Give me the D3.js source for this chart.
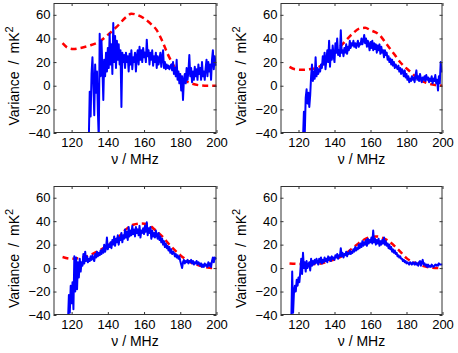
<!DOCTYPE html>
<html>
<head>
<meta charset="utf-8">
<script src="https://cdn.jsdelivr.net/npm/d3@7/dist/d3.min.js"></script>
<style>
body { margin: 0; background: #fff; }
text { font-family: "Liberation Sans", Arial, Helvetica, sans-serif; fill: #000; }
</style>
</head>
<body>
<svg id="chart" width="458" height="353"></svg>
<script>
// axis ticks
var xTicks = [120, 140, 160, 180, 200];
var yTicks = [-40, -20, 0, 20, 40, 60];

// blue (measured) series, sampled every 0.5 MHz from the start frequency
var blueStep = 0.5;

var blue1Start = 129.5;
var blue1 = [-45,-5,-26,10,24,2,-25,18,-6,12,
    -22,-45,44,8,38,15,-12,22,8,28,
    12,32,15,44,18,35,10,53,20,42,
    15,38,22,35,18,30,-18,28,20,26,
    15,28,20,25,12,27,18,30,14,24,
    20,28,12,25,30,18,33,22,30,20,
    32,24,28,20,39,25,30,18,28,22,
    30,17,25,20,28,15,25,18,22,28,
    16,24,30,15,20,14,18,15,17,14,
    16,18,13,20,10,15,8,22,5,12,
    2,10,-4,8,-12,5,10,2,15,5,
    12,26,8,15,3,12,5,16,8,14,
    5,18,10,15,5,20,8,12,5,15,
    22,8,20,12,18,5,22,30,14,25,
    18,17];

var blue2Start = 122.5;
var blue2 = [-45,-22,-40,-10,-3,-15,-6,-18,-8,8,
    18,4,12,6,24,8,15,10,14,12,
    18,15,25,18,28,14,22,30,20,38,
    16,30,22,34,25,20,36,28,40,26,
    30,25,47,28,30,25,32,28,35,27,
    33,30,38,32,36,34,38,33,36,32,
    35,38,33,36,35,40,35,38,43,36,
    40,33,38,35,30,37,32,38,30,36,
    31,35,28,34,30,35,27,33,28,30,
    24,30,26,28,22,25,20,23,18,22,
    17,20,15,18,16,14,17,12,15,10,
    14,12,8,13,7,10,5,8,3,6,
    4,8,5,7,3,9,13,5,8,4,
    10,6,3,7,5,8,4,9,5,7,
    3,6,4,8,2,6,4,9,2,5,
    -4,8,2,20,12,12];

var blue3Start = 118;
var blue3 = [-45,-23,-38,-15,-30,-12,-35,10,-20,9,
    -18,5,-8,8,-3,5,2,12,4,14,
    6,10,5,8,6,10,7,11,8,6,
    12,9,14,10,13,11,15,12,16,13,
    20,14,17,26,16,20,18,22,17,24,
    20,27,19,25,22,28,20,26,24,30,
    22,28,25,33,26,31,24,35,27,32,
    28,36,29,33,27,35,30,33,28,36,
    26,32,30,34,29,36,31,39,28,34,
    30,35,25,32,27,30,26,32,28,25,
    30,24,27,22,25,20,23,18,21,17,
    19,15,18,13,16,12,14,13,10,12,
    9,11,8,10,6,3,0,5,7,4,
    6,5,7,4,6,5,7,4,6,3,
    5,4,6,3,5,4,2,4,1,3,
    1,4,2,3,1,5,2,4,1,6,
    9,5,9,8,9];

var blue4Start = 116;
var blue4 = [-45,-3,-38,-20,-15,-20,-10,-15,-8,-12,
    -3,8,-5,13,0,5,-3,6,0,3,
    5,-2,8,2,6,3,7,4,8,5,
    3,8,5,9,4,7,5,9,6,8,
    5,10,7,9,6,10,8,9,7,11,
    9,12,8,11,10,17,10,13,9,12,
    11,14,10,13,12,15,12,14,13,16,
    14,18,15,17,16,20,17,21,18,23,
    19,22,20,24,19,25,21,24,22,26,
    21,32,22,25,20,24,21,25,19,23,
    20,24,21,26,20,23,19,21,17,20,
    16,18,14,16,13,15,12,13,10,11,
    9,10,8,8,6,7,5,6,4,5,
    4,3,5,4,3,5,4,3,5,3,
    4,2,5,6,2,5,7,3,4,2,
    3,1,3,1,2,1,3,2,1,2,
    3,2,3,2,4,3,3,3,3];

// red (model) dashed curves
var red1Freq = [115,118,121,125,130,135,140,145,150,153,156,160,164,167,170,173,176,179,182,186,190,195,200];
var red1 = [36,32,31,32,34,37,43,50,58,61,60,57,52,47,38,27,18,10,5,2,0.5,0,0];

var red2Freq = [115,118,122,126,130,135,140,145,150,154,157,160,165,169,173,177,182,186,191,196,200];
var red2 = [16,14,13.5,14,15,20,28,36,44,48.5,49,47,43,35,27,19,12,6.5,2.5,0.5,0];

var red3Freq = [115,120,126,134,140,145,150,154,158,162,165,170,174,180,185,191,198,200];
var red3 = [9.5,8,9,14,19.5,25,33,37,38,37.5,34,27,20,11,5.5,2,0,0];

var red4Freq = [115,121,130,137,145,152,158,163,169,175,180,186,193,200];
var red4 = [4,3.5,3.5,6,11,19.5,25.5,27,24,16.5,8.5,3.5,0.5,0];

var svg = d3.select("#chart");

function drawPanel(id, box, blueStart, blueVals, redFreq, redVals) {
    var left = box[0], top = box[1], right = box[2], bottom = box[3];

    var x = d3.scaleLinear().domain([110, 200]).range([left, right]);
    var y = d3.scaleLinear().domain([-40, 70]).range([bottom, top]);

    svg.append("clipPath").attr("id", "clip" + id)
        .append("rect")
        .attr("x", left).attr("y", top)
        .attr("width", right - left).attr("height", bottom - top);

    var g = svg.append("g");

    var plot = g.append("g").attr("clip-path", "url(#clip" + id + ")");

    var redPts = redFreq.map(function (f, i) { return [f, redVals[i]]; });
    var bluePts = blueVals.map(function (v, i) { return [blueStart + i * blueStep, v]; });

    var redLine = d3.line()
        .x(function (d) { return x(d[0]); })
        .y(function (d) { return y(d[1]); })
        .curve(d3.curveMonotoneX);

    var blueLine = d3.line()
        .x(function (d) { return x(d[0]); })
        .y(function (d) { return y(d[1]); });

    plot.append("path").datum(redPts)
        .attr("d", redLine)
        .attr("fill", "none")
        .attr("stroke", "#ff0000")
        .attr("stroke-width", 2.5)
        .attr("stroke-dasharray", "6,4");

    plot.append("path").datum(bluePts)
        .attr("d", blueLine)
        .attr("fill", "none")
        .attr("stroke", "#0000ff")
        .attr("stroke-width", 2)
        .attr("stroke-linejoin", "round");

    // axes, ticks pointing inside
    var xAxis = g.append("g").attr("transform", "translate(0," + bottom + ")")
        .call(d3.axisBottom(x).tickValues(xTicks).tickSizeInner(-3).tickSizeOuter(0).tickPadding(5));
    var yAxis = g.append("g").attr("transform", "translate(" + left + ",0)")
        .call(d3.axisLeft(y).tickValues(yTicks).tickSizeInner(-3).tickSizeOuter(0).tickPadding(3));
    g.append("g").attr("transform", "translate(0," + top + ")")
        .call(d3.axisTop(x).tickValues(xTicks).tickSizeInner(-3).tickSizeOuter(0).tickFormat(""));
    g.append("g").attr("transform", "translate(" + right + ",0)")
        .call(d3.axisRight(y).tickValues(yTicks).tickSizeInner(-3).tickSizeOuter(0).tickFormat(""));

    g.selectAll(".domain").remove();
    g.selectAll(".tick line").attr("stroke", "#333");
    g.selectAll(".tick text")
        .style("font-family", "'Liberation Sans', Arial, sans-serif")
        .style("font-size", "13px")
        .attr("fill", "#000");
    yAxis.selectAll(".tick text").text(function (d) { return d < 0 ? "\u2212" + Math.abs(d) : d; });

    g.append("rect")
        .attr("x", left + 0.5).attr("y", top + 0.5)
        .attr("width", right - left - 1).attr("height", bottom - top - 1)
        .attr("fill", "none")
        .attr("stroke", "#333")
        .attr("stroke-width", 1);

    // x label
    g.append("text")
        .attr("x", (left + right) / 2)
        .attr("y", bottom + 31)
        .attr("text-anchor", "middle")
        .style("font-size", "14px")
        .text("\u03bd / MHz");

    // y label
    var yl = g.append("text")
        .attr("transform", "translate(" + (left - 34.5) + "," + ((top + bottom) / 2 + 8) + ") rotate(-90)")
        .attr("text-anchor", "middle")
        .style("font-size", "14px");
    yl.append("tspan").text("Variance\u2002/\u2002mK");
    yl.append("tspan").attr("dy", -6).style("font-size", "11px").text("2");
}

drawPanel(1, [53.5, 3, 216.5, 133], blue1Start, blue1, red1Freq, red1);
drawPanel(2, [280.5, 3, 442.5, 133], blue2Start, blue2, red2Freq, red2);
drawPanel(3, [53.5, 186, 216.5, 315], blue3Start, blue3, red3Freq, red3);
drawPanel(4, [280.5, 186, 442.5, 315], blue4Start, blue4, red4Freq, red4);
</script>
</body>
</html>
